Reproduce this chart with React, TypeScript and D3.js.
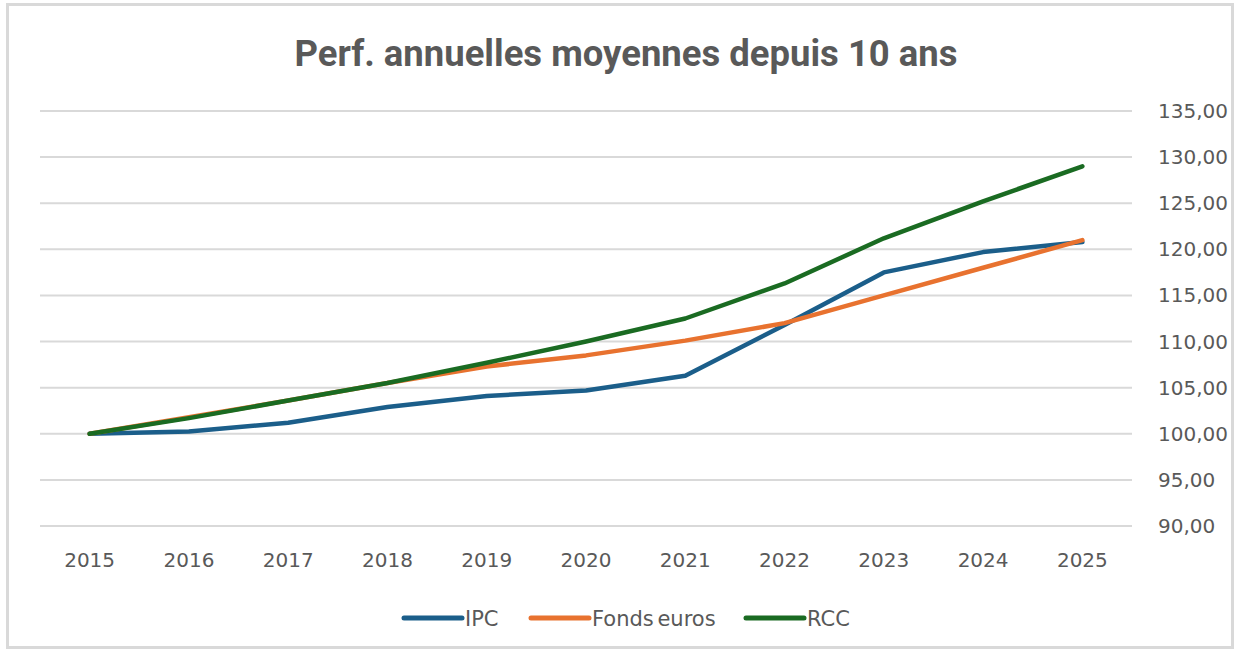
import * as d3 from "d3";
import { useEffect, useRef } from "react";

const years = ["2015", "2016", "2017", "2018", "2019", "2020", "2021", "2022", "2023", "2024", "2025"];
const ipc = [100, 100.25, 101.2, 102.9, 104.1, 104.7, 106.3, 111.8, 117.5, 119.7, 120.8];
const fondsEuros = [100, 101.8, 103.6, 105.5, 107.3, 108.5, 110.1, 112.0, 115.0, 118.0, 121.0];
const rcc = [100, 101.7, 103.6, 105.5, 107.7, 110.0, 112.5, 116.3, 121.2, 125.2, 129.0];
const yTicks = [90, 95, 100, 105, 110, 115, 120, 125, 130, 135];
const seriesNames = ["IPC", "Fonds euros", "RCC"];
const seriesColors = ["#1b5e8a", "#e8722f", "#1a6b22"];

const App = () => {
  const ref = useRef<SVGSVGElement | null>(null);

  useEffect(() => {
    const W = 1240, H = 655;
    const svg = d3.select(ref.current);
    svg.selectAll("*").remove();

    svg.append("rect")
      .attr("width", W).attr("height", H).attr("fill", "#fff");
    svg.append("rect")
      .attr("x", 7.5).attr("y", 4.5).attr("width", 1225).attr("height", 643)
      .attr("fill", "#fff").attr("stroke", "#d9d9d9").attr("stroke-width", 3);

    const x = d3.scalePoint().domain(years).range([40, 1132]).padding(0.5);
    const y = d3.scaleLinear().domain([90, 135]).range([526, 111]);

    svg.append("text")
      .attr("x", 626).attr("y", 66)
      .attr("text-anchor", "middle")
      .attr("font-family", "Roboto, sans-serif")
      .attr("font-weight", 700)
      .attr("font-size", 36)
      .attr("textLength", 663)
      .attr("lengthAdjust", "spacingAndGlyphs")
      .attr("fill", "#595959")
      .text("Perf. annuelles moyennes depuis 10 ans");

    // grid
    svg.append("g").selectAll("line")
      .data(yTicks).enter().append("line")
      .attr("x1", 40).attr("x2", 1132)
      .attr("y1", d => y(d)).attr("y2", d => y(d))
      .attr("stroke", "#d9d9d9").attr("stroke-width", 2);

    // right axis labels
    svg.append("g")
      .attr("font-family", "'DejaVu Sans', sans-serif")
      .attr("font-size", 20)
      .attr("fill", "#595959")
      .selectAll("text")
      .data(yTicks).enter().append("text")
      .attr("x", 1158).attr("y", d => y(d) + 7)
      .text(d => d3.format(".2f")(d).replace(".", ","));

    // x labels
    svg.append("g")
      .attr("font-family", "'DejaVu Sans', sans-serif")
      .attr("font-size", 20)
      .attr("fill", "#595959")
      .attr("text-anchor", "middle")
      .selectAll("text")
      .data(years).enter().append("text")
      .attr("x", d => x(d) as number).attr("y", 567)
      .text(d => d);

    const allSeries = [ipc, fondsEuros, rcc];
    const line = d3.line<number>()
      .x((_, i) => x(years[i]) as number)
      .y(d => y(d));

    svg.append("g").selectAll("path")
      .data(allSeries).enter().append("path")
      .attr("d", d => line(d))
      .attr("fill", "none")
      .attr("stroke", (_, i) => seriesColors[i])
      .attr("stroke-width", 4.5)
      .attr("stroke-linejoin", "round")
      .attr("stroke-linecap", "round");

    // legend
    const legendX = [404, 531, 746];
    const leg = svg.append("g")
      .attr("font-family", "'DejaVu Sans', sans-serif")
      .attr("font-size", 21)
      .attr("word-spacing", -3)
      .attr("fill", "#595959");
    seriesNames.forEach((name, i) => {
      leg.append("line")
        .attr("x1", legendX[i]).attr("x2", legendX[i] + 58)
        .attr("y1", 618).attr("y2", 618)
        .attr("stroke", seriesColors[i]).attr("stroke-width", 5)
        .attr("stroke-linecap", "round");
      leg.append("text")
        .attr("x", legendX[i] + 61).attr("y", 626)
        .text(name);
    });
  }, []);

  return (
    <svg ref={ref} width={1240} height={655}
      style={{ position: "absolute", left: 0, top: 0, display: "block" }} />
  );
};

export default App;
